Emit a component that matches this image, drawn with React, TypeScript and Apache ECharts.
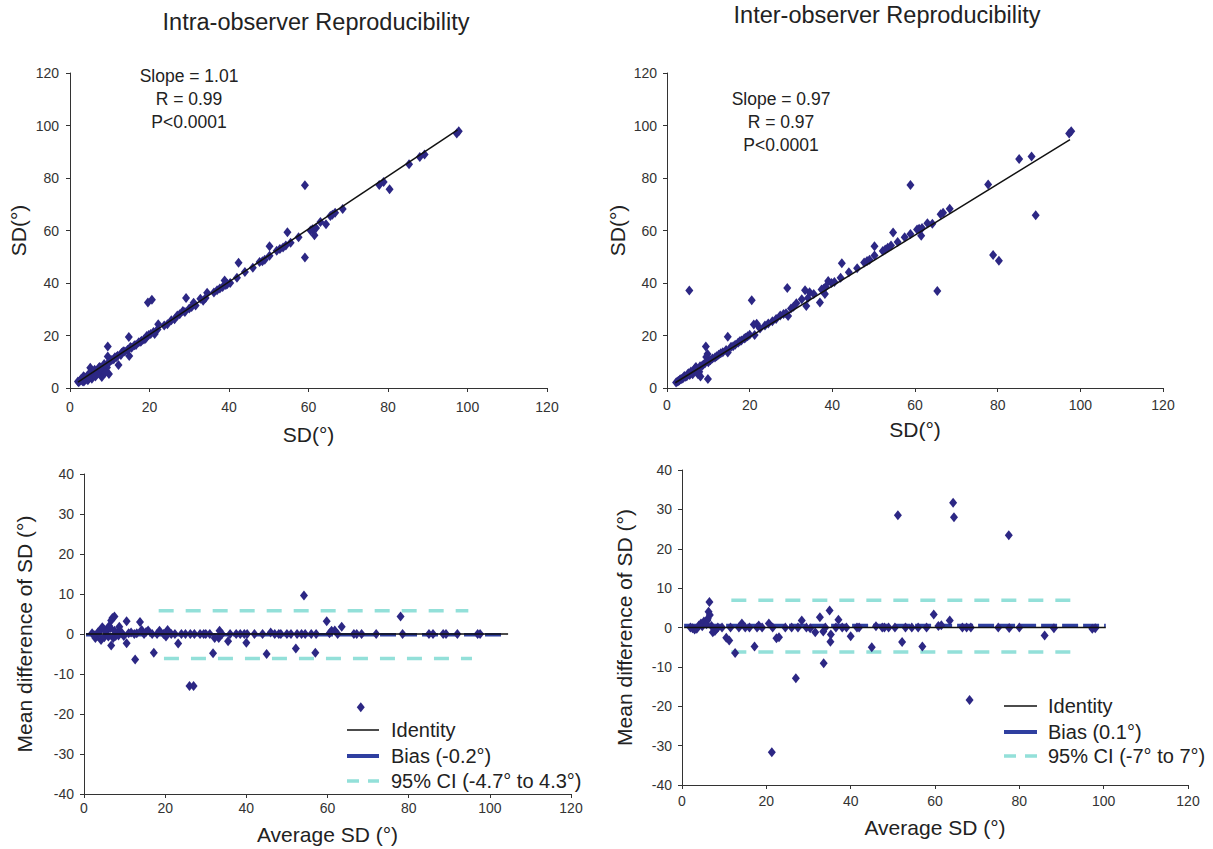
import React, { useEffect, useRef } from "react";
import * as echarts from "echarts";

// ---------- DATA ----------
const intraX = [97.3, 97.8, 89.2, 88, 85.3, 78.9, 77.8, 80.4, 68.6, 66.7, 66, 65.5, 64.4, 59.1, 59.1, 61, 61.5, 61.9, 60.5, 57.5, 54.7, 54.3, 53.6, 52.8, 52, 50.2, 50.2, 48.4, 47.7, 46, 42.4, 42, 39.6, 39.2, 38.9, 38.4, 37.7, 37, 34.5, 34.1, 33.5, 32.8, 31.1, 30.6, 30, 29.2, 28.4, 27.6, 27, 26.3, 23.7, 22.2, 22, 21.3, 20.6, 19.6, 19.8, 19.3, 18.6, 18, 17.3, 16.2, 15.5, 14.8, 14.9, 14.5, 13.8, 13, 12.2, 11.7, 11, 9.5, 9.5, 9.8, 9.3, 10, 8.5, 8, 7.7, 7.2, 6.8, 5.1, 5.3, 4.7, 4.2, 3.8, 3.4, 3, 2.5, 2.2, 2, 6, 6.5, 7, 8.2, 5.5, 4.5, 3.5, 2.8, 3.2, 3.6, 4, 4.4, 4.8, 5.6, 6.2, 6.4, 7.4, 7.9, 8.6, 8.9, 9.7, 10.5, 11.3, 12, 12.8, 13.4, 15.2, 16.6, 17.8, 19, 20.3, 21, 24.5, 25.5, 28.9, 31.6, 36.2, 40.3, 44, 49, 55.5, 63];
const intraY = [97, 97.8, 89, 88, 85.2, 78.5, 77.3, 75.7, 68.2, 66.8, 66, 65.5, 62.4, 77.2, 49.7, 60.5, 58.2, 61, 60, 57.4, 59.3, 54.3, 53.5, 53, 52.3, 54, 50.4, 48.3, 48, 45.8, 47.7, 42, 39.6, 39.2, 41, 38.5, 37.9, 37.2, 36.3, 34.3, 33.2, 34, 32.5, 30.9, 30.3, 34.3, 29.3, 28.1, 27.6, 26.2, 23.8, 24.3, 22.3, 20.6, 33.6, 32.6, 20.2, 19.8, 18.5, 18, 17.4, 16.3, 15.3, 19.4, 12.2, 14.6, 13.9, 13.4, 8.8, 11.8, 11, 15.8, 12, 5.3, 7.8, 10.3, 8.5, 4.2, 7.8, 7.5, 6.5, 7.7, 4.2, 5.2, 4, 3.5, 4.5, 3, 2.8, 2.2, 2.5, 5.5, 5, 5.5, 6, 3.5, 3, 2.5, 3.4, 2.6, 4.1, 3.2, 4.8, 3.8, 6.2, 7, 4.4, 8, 7.1, 9.1, 5.9, 9.5, 10.7, 11.7, 12.3, 12.6, 14, 15.6, 16.4, 17.6, 18.8, 20.6, 21.3, 24.3, 25.8, 29, 31.4, 36.4, 40, 44.2, 48.9, 55.3, 63.2];
const intraFit = [[2, 2.2], [97.5, 98.3]];

const interX = [97.3, 97.8, 85.2, 88.2, 89.2, 77.7, 78.9, 80.3, 68.4, 66.8, 66.2, 64.2, 65.4, 58.9, 58.9, 60.5, 61, 61.7, 61.5, 57.5, 54.7, 54.2, 53.4, 52.8, 52.2, 50.2, 50.2, 48.4, 47.7, 46, 42.3, 42, 39.8, 39, 38.4, 37.9, 37.4, 37, 38.2, 34.5, 34.1, 33.4, 33.7, 32.6, 31.3, 30.6, 30, 29.1, 29.3, 28.2, 27.4, 26.4, 23.7, 21.7, 21, 20.5, 21.2, 20, 19.5, 18.7, 18, 17.2, 16.5, 14.7, 14.7, 14.3, 13.5, 12.5, 11.6, 9.4, 9.8, 9.5, 9.9, 10.5, 5.4, 8.5, 8.1, 7.5, 7, 6.5, 6, 5.5, 5, 4.5, 4, 3.5, 3, 2.5, 2.2, 7.8, 6.8, 2.8, 3.2, 3.8, 4.2, 4.8, 5.2, 5.8, 6.2, 7.2, 7.6, 8, 8.8, 9.2, 10, 11, 12, 13, 15.5, 16, 17.6, 19, 22.5, 24.5, 25.5, 28.8, 35.5, 40.5, 44, 49, 55.8, 63];
const interY = [97, 97.8, 87.2, 88.2, 65.8, 77.5, 50.7, 48.5, 68.3, 66.8, 66.2, 62.6, 37, 77.3, 58.7, 60.4, 60.7, 61, 58, 57.4, 59.2, 54.3, 53.4, 52.8, 52.2, 54, 50.5, 48.4, 47.8, 45.6, 47.5, 42, 40, 40.8, 38.6, 37.8, 37.5, 32.6, 35.8, 36.5, 34.3, 37.2, 31.2, 33.8, 32.3, 31, 30.3, 38.1, 27.4, 28.2, 27.6, 26.3, 23.8, 24.5, 24.2, 33.4, 20.2, 20.3, 19.7, 18.9, 18.1, 17.2, 16.5, 19.5, 13.5, 14.5, 13.6, 12.7, 11.6, 15.8, 13, 11.8, 3.4, 10.6, 37.1, 8.5, 4.4, 5.2, 8, 6.5, 5.8, 5, 5.2, 4.3, 4, 3.4, 3, 2.5, 2.1, 6.2, 7.5, 2.7, 3.3, 3.6, 4.6, 4.5, 5.6, 6.3, 5.2, 7.3, 5.6, 8.3, 9, 9.4, 9.8, 11.2, 12.1, 13.2, 15.7, 15.9, 17.8, 19.1, 22.7, 24.6, 25.4, 28.5, 35.8, 40.4, 44.1, 48.9, 55.6, 62.8];
const interFit = [[2, 2], [97.5, 94.6]];

const baIntraX = [54.2, 78, 59.8, 61, 61.8, 63.5, 60.5, 57, 52.2, 45, 46, 68.2, 26, 27, 40, 35.5, 33.4, 33.2, 32.2, 31.8, 31, 23.2, 20.6, 20.2, 19.6, 18.6, 17.2, 15.8, 14.2, 13.8, 12.6, 11.6, 10.5, 10.5, 8.7, 8.2, 7.5, 7, 6.7, 6.7, 6.2, 5.8, 5.2, 4.5, 4.2, 3.8, 3.2, 2.8, 7.2, 7.8, 5, 9.3, 21.5, 22.4, 26.2, 27.2, 28.6, 29.5, 34, 37.5, 38.5, 39.5, 40.2, 42, 48, 48.5, 50, 52.5, 53.6, 54.5, 57.2, 66.5, 67.2, 68.4, 78.5, 85, 88.5, 89.2, 97, 97.6, 44, 16.8, 12.4, 11, 2, 2.5, 3.5, 4.8, 5.5, 6, 6.5, 7.5, 8.5, 9.8, 13, 14.8, 15.3, 18, 24, 25, 30, 36, 47, 51, 56, 62.5, 72, 86, 92];
const baIntraY = [9.6, 4.4, 3.2, 0.8, 0.9, 1.8, 0.2, -4.7, -3.6, -5, 0.4, -18.3, -13, -13, -2.2, -1.8, 0.8, -1, -1, -4.8, 0, -2.4, 1, -0.6, 0, 0.8, -4.7, 0.9, 1, 3, -6.4, 0.4, 3.2, -2.3, 1.8, 0.3, 4.4, 4, 3.4, -2.9, 2, 1.2, 0.8, 1.7, -1.5, 0.7, -0.5, -1, -1, -0.5, -0.8, 0.3, 0, 0, 0, 0, 0, 0, 0, 0, 0, 0, 0, 0, 0, 0, 0, 0, 0, 0, 0, 0, 0, 0, 0, 0, 0, 0, 0, 0, 0, 0, 0, 0.2, 0.2, -0.3, 0.5, 1.3, 0.6, -0.6, 1.5, 0.8, -0.4, -0.5, 0.2, 0, 0.5, 0, 0, 0, 0, 0, 0, 0, 0, 0, 0, 0, 0];
const baIntraIdentity = [[0.5, 0], [104.5, 0]];
const baIntraBias = [[0.5, -0.2], [104, -0.2]];
const baIntraCIUpper = [[18.4, 5.8], [94.7, 5.8]];
const baIntraCILower = [[19.7, -6.1], [95.6, -6.1]];

const baInterX = [64.3, 64.5, 51.2, 77.5, 21.3, 27, 33.6, 68.2, 6.5, 6.3, 6.6, 6.0, 5.5, 4.5, 7.3, 10.5, 11.2, 12.6, 14.2, 17.2, 18.2, 20.6, 22.4, 23, 28.4, 32.7, 35, 37.1, 35.3, 35.2, 33.5, 31.6, 30.4, 40, 45, 52.2, 57, 59.7, 60.8, 61.5, 63.5, 77.6, 86, 88.2, 97.3, 98, 2.5, 3, 3.5, 8.5, 9.5, 13.5, 16, 19, 24.5, 26, 29.5, 38, 39, 41.5, 46, 48, 49, 50.5, 53, 54.5, 58, 66.5, 67.5, 68.5, 75, 4, 4.8, 5.2, 5.8, 6.1, 7, 7.8, 8.2, 2, 11.5, 15, 17.8, 21.5, 27.5, 34, 36.5, 42, 47.5, 56, 80];
const baInterY = [31.7, 28, 28.5, 23.4, -31.7, -12.9, -9.1, -18.4, 6.5, 4, 3.2, 1.8, 1.2, 1, -1.2, -2.6, -3.3, -6.5, 1, -4.8, 0.5, 1, -2.7, -2.5, 1.8, 2.6, 4.3, 2, -1.8, -3.6, -1, -1.2, -0.2, -2.2, -5, -3.7, -4.8, 3.3, 0.4, 0.6, 1.8, -0.1, -2, -0.2, -0.3, -0.2, -0.2, -0.5, -0.3, 0, 0, 0, 0, 0, 0, 0, 0, 0, 0, 0, 0.3, 0, 0, 0, 0, 0, 0, 0, 0, 0, 0, 0.5, 0.3, 1.5, 0.8, 2.2, 0.4, -0.9, -0.3, 0, 0, 0, 0, 0, 0, 0, 0, 0, 0, 0, 0];
const baInterIdentity = [[0.5, 0], [100.5, 0]];
const baInterBias = [[0.5, 0.5], [100.5, 0.5]];
const baInterCIUpper = [[11.7, 6.9], [94.1, 6.9]];
const baInterCILower = [[11.7, -6.2], [94.1, -6.2]];

const titles = ["Intra-observer Reproducibility", "Inter-observer Reproducibility"];
const statsIntra = ["Slope = 1.01", "R = 0.99", "P<0.0001"];
const statsInter = ["Slope = 0.97", "R = 0.97", "P<0.0001"];
const legendIntra = ["Identity", "Bias (-0.2°)", "95% CI (-4.7° to 4.3°)"];
const legendInter = ["Identity", "Bias (0.1°)", "95% CI (-7° to 7°)"];

// ---------- STYLE ----------
const FONT = "Liberation Sans, Arial, Helvetica, sans-serif";
const DOT = "#2c2784";
const CI = "#93e0d9";
const BIAS = "#2f3fa0";
const IDENT = "#111";

const zip = (a: number[], b: number[]) => a.map((v, i) => [v, b[i]]);

function axisCommon(min: number, max: number, interval: number, margin = 10) {
  return {
    type: "value" as const,
    min,
    max,
    interval,
    splitLine: { show: false },
    axisLine: { show: true, onZero: false, lineStyle: { color: "#333", width: 1 } },
    axisTick: { show: true, length: 4, lineStyle: { color: "#333" } },
    axisLabel: { fontSize: 14, color: "#333", fontFamily: FONT, margin },
    nameLocation: "middle" as const,
    nameTextStyle: { fontSize: 21, color: "#222", fontFamily: FONT },
  };
}

export default function App() {
  const ref = useRef<HTMLDivElement>(null);
  useEffect(() => {
    if (!ref.current) return;
    const chart = echarts.init(ref.current, undefined, { renderer: "svg" });
    const scatter = (name: string, data: number[][], idx: number) => ({
      type: "scatter",
      name,
      xAxisIndex: idx,
      yAxisIndex: idx,
      data,
      symbol: "diamond",
      symbolSize: [8, 10],
      itemStyle: { color: DOT, opacity: 1 },
      z: 4,
    });
    const line = (name: string, data: number[][], idx: number, style: any, z: number) => ({
      type: "line",
      name,
      xAxisIndex: idx,
      yAxisIndex: idx,
      data,
      symbol: "none",
      lineStyle: style,
      itemStyle: { color: style.color },
      z,
    });
    const identityStyle = { color: IDENT, width: 1.5, type: "solid" };
    const biasStyle = { color: BIAS, width: 3.5, type: [16, 5] };
    const ciStyle = { color: CI, width: 3.5, type: [15, 12] };

    const statsText = (lines: string[], cx: number, top: number) =>
      lines.map((t, i) => ({
        type: "text",
        x: cx,
        y: top + i * 23,
        style: { text: t, fill: "#222", font: `17.5px ${FONT}`, textAlign: "center", textVerticalAlign: "middle" },
      }));

    const legendBlock = (labels: string[], x0: number, x1: number, tx: number, ys: number[]) => {
      const styles = [
        { stroke: IDENT, lineWidth: 1.5 },
        { stroke: BIAS, lineWidth: 4 },
        { stroke: CI, lineWidth: 3.5, lineDash: [12, 9] },
      ];
      const out: any[] = [];
      labels.forEach((t, i) => {
        out.push({
          type: "line",
          shape: { x1: x0, y1: ys[i], x2: x1, y2: ys[i] },
          style: styles[i],
        });
        out.push({
          type: "text",
          x: tx,
          y: ys[i],
          style: { text: t, fill: "#222", font: `20px ${FONT}`, textAlign: "left", textVerticalAlign: "middle" },
        });
      });
      return out;
    };

    chart.setOption({
      animation: false,
      textStyle: { fontFamily: FONT },
      grid: [
        { left: 70, top: 73, width: 477, height: 315 },
        { left: 667, top: 73, width: 496, height: 315 },
        { left: 84, top: 474, width: 487, height: 320 },
        { left: 682, top: 470, width: 506, height: 315 },
      ],
      xAxis: [
        { ...axisCommon(0, 120, 20, 12), gridIndex: 0, name: "SD(°)", nameGap: 36 },
        { ...axisCommon(0, 120, 20, 10), gridIndex: 1, name: "SD(°)", nameGap: 31 },
        { ...axisCommon(0, 120, 20, 7), gridIndex: 2, name: "Average SD (°)", nameGap: 30 },
        { ...axisCommon(0, 120, 20, 9), gridIndex: 3, name: "Average SD (°)", nameGap: 32 },
      ],
      yAxis: [
        { ...axisCommon(0, 120, 20, 11), gridIndex: 0, name: "SD(°)", nameGap: 41 },
        { ...axisCommon(0, 120, 20, 10), gridIndex: 1, name: "SD(°)", nameGap: 39 },
        { ...axisCommon(-40, 40, 10, 10), gridIndex: 2, name: "Mean difference of SD (°)", nameGap: 49 },
        { ...axisCommon(-40, 40, 10, 10), gridIndex: 3, name: "Mean difference of SD (°)", nameGap: 47 },
      ],
      graphic: [
        {
          type: "text",
          x: 316,
          y: 22,
          style: { text: titles[0], fill: "#222", font: `23.5px ${FONT}`, textAlign: "center", textVerticalAlign: "middle" },
        },
        {
          type: "text",
          x: 887,
          y: 15,
          style: { text: titles[1], fill: "#222", font: `23.5px ${FONT}`, textAlign: "center", textVerticalAlign: "middle" },
        },
        ...statsText(statsIntra, 189, 76),
        ...statsText(statsInter, 781, 99),
        ...legendBlock(legendIntra, 347, 379, 391, [730, 756, 781]),
        ...legendBlock(legendInter, 1004, 1037, 1048, [706, 732, 756]),
      ],
      series: [
        scatter("intra", zip(intraX, intraY), 0),
        line("fitIntra", intraFit, 0, { color: IDENT, width: 1.5 }, 5),
        scatter("inter", zip(interX, interY), 1),
        line("fitInter", interFit, 1, { color: IDENT, width: 1.5 }, 5),

        line(legendIntra[2], baIntraCIUpper, 2, ciStyle, 2),
        line(legendIntra[2], baIntraCILower, 2, ciStyle, 2),
        line(legendIntra[1], baIntraBias, 2, biasStyle, 3),
        scatter("baIntra", zip(baIntraX, baIntraY), 2),
        line(legendIntra[0], baIntraIdentity, 2, identityStyle, 5),

        line(legendInter[2], baInterCIUpper, 3, ciStyle, 2),
        line(legendInter[2], baInterCILower, 3, ciStyle, 2),
        line(legendInter[1], baInterBias, 3, biasStyle, 3),
        scatter("baInter", zip(baInterX, baInterY), 3),
        line(legendInter[0], baInterIdentity, 3, identityStyle, 5),
      ],
    });
    return () => chart.dispose();
  }, []);
  return (
    <div
      ref={ref}
      style={{ position: "fixed", left: 0, top: 0, width: 1213, height: 849, background: "#fff" }}
    />
  );
}
